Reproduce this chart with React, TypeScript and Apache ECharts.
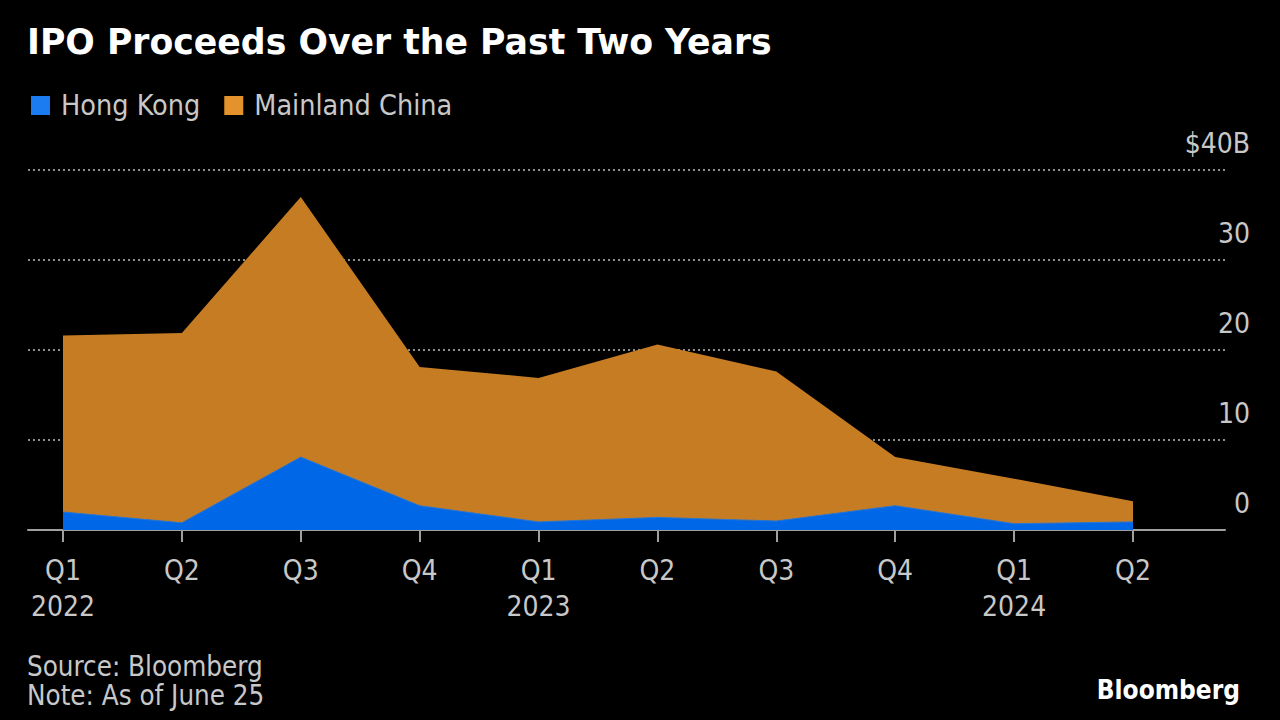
import React, { useEffect, useRef } from "react";
import * as echarts from "echarts";

const quarters = ["2022 Q1", "2022 Q2", "2022 Q3", "2022 Q4", "2023 Q1", "2023 Q2", "2023 Q3", "2023 Q4", "2024 Q1", "2024 Q2"];
const hongKong = [2.0, 0.8, 8.1, 2.7, 0.9, 1.4, 1.0, 2.7, 0.7, 0.9];
const mainland = [19.6, 21.1, 28.9, 15.4, 16.0, 19.2, 16.6, 5.4, 5.0, 2.3];
const yTicks = [0, 10, 20, 30, 40];

const NARROW = "'Liberation Sans Narrow', 'DejaVu Sans Condensed', 'Liberation Sans', sans-serif";
const LABEL = "#c8c8c8";

export default function App() {
  const ref = useRef<HTMLDivElement>(null);
  useEffect(() => {
    if (!ref.current) return;
    const chart = echarts.init(ref.current, null, { renderer: "svg" });
    chart.setOption({
      animation: false,
      backgroundColor: "#000",
      title: [
        {
          text: "IPO Proceeds Over the Past Two Years",
          left: 27,
          top: 24,
          padding: 0,
          textStyle: { color: "#fff", fontFamily: "'DejaVu Sans', sans-serif", fontWeight: "bold", fontSize: 34.7 },
        },
        {
          text: "Source: Bloomberg\nNote: As of June 25",
          left: 27,
          top: 651,
          padding: 0,
          textStyle: { color: LABEL, fontFamily: NARROW, fontSize: 27.5, lineHeight: 29, fontWeight: "normal" },
        },
        {
          text: "Bloomberg",
          right: 40,
          top: 677,
          padding: 0,
          textStyle: { color: "#fff", fontFamily: NARROW, fontSize: 26, fontWeight: "bold" },
        },
      ],
      legend: {
        left: 26,
        top: 86,
        icon: "rect",
        itemWidth: 19,
        itemHeight: 19,
        itemGap: 24,
        textStyle: { color: LABEL, fontFamily: NARROW, fontSize: 28.5, padding: [0, 0, 0, 6] },
        data: [
          { name: "Hong Kong", itemStyle: { color: "#1a7cf0" } },
          { name: "Mainland China", itemStyle: { color: "#e3922c" } },
        ],
      },
      grid: [
        { left: 28, right: 55, top: 170, bottom: 190 },
        { left: 63, right: 147, top: 170, bottom: 190 },
      ],
      xAxis: [
        {
          gridIndex: 0,
          type: "value",
          min: 0,
          max: 1,
          axisLine: { show: true, lineStyle: { color: "#a0a0a0", width: 2 } },
          axisTick: { show: false },
          axisLabel: { show: false },
          splitLine: { show: false },
        },
        {
          gridIndex: 1,
          type: "category",
          boundaryGap: false,
          data: quarters,
          axisLine: { show: false },
          axisTick: { show: true, length: 12, lineStyle: { color: "#a0a0a0", width: 2 } },
          axisLabel: {
            color: LABEL,
            fontFamily: NARROW,
            fontSize: 28,
            lineHeight: 36,
            margin: 22,
            interval: 0,
            formatter: (v: string) => {
              const [y, q] = v.split(" ");
              return q === "Q1" ? `${q}\n${y}` : q;
            },
          },
          splitLine: { show: false },
        },
      ],
      yAxis: [
        {
          gridIndex: 0,
          type: "value",
          position: "right",
          min: yTicks[0],
          max: yTicks[yTicks.length - 1],
          interval: 10,
          axisLine: { show: false },
          axisTick: { show: false },
          splitLine: { show: true, lineStyle: { color: "#8f8f8f", width: 2, type: [2, 3] } },
          axisLabel: {
            color: LABEL,
            fontFamily: NARROW,
            fontSize: 28,
            align: "right",
            verticalAlign: "bottom",
            margin: 25,
            padding: [0, 0, 13, 0],
            formatter: (v: number) => (v === 40 ? "$40B" : String(v)),
          },
        },
        { gridIndex: 1, type: "value", min: 0, max: 40, show: false },
      ],
      series: [
        {
          name: "Hong Kong",
          type: "line",
          xAxisIndex: 1,
          yAxisIndex: 1,
          stack: "total",
          data: hongKong,
          symbol: "none",
          lineStyle: { width: 1, color: "#2a78d8" },
          areaStyle: { color: "#0068e6", opacity: 1 },
          itemStyle: { color: "#1a7cf0" },
        },
        {
          name: "Mainland China",
          type: "line",
          xAxisIndex: 1,
          yAxisIndex: 1,
          stack: "total",
          data: mainland,
          symbol: "none",
          lineStyle: { width: 0 },
          areaStyle: { color: "#c67c23", opacity: 1 },
          itemStyle: { color: "#e3922c" },
        },
      ],
    });
    return () => chart.dispose();
  }, []);
  return <div ref={ref} style={{ position: "fixed", left: 0, top: 0, width: 1280, height: 720 }} />;
}
